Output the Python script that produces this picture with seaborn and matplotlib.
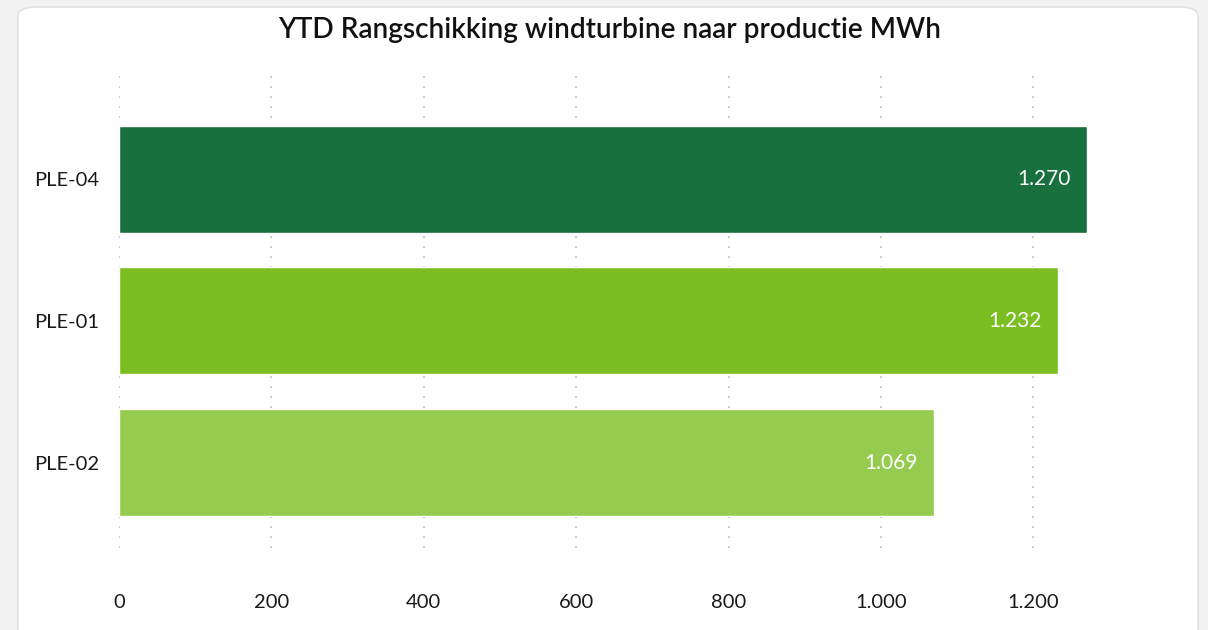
import seaborn as sns
import pandas as pd
import matplotlib.pyplot as plt
from matplotlib.patches import FancyBboxPatch
from matplotlib.ticker import FuncFormatter

# Data
turbines = ['PLE-04', 'PLE-01', 'PLE-02']
production = [1270, 1232, 1069]
bar_colors = ['#18703c', '#7abe22', '#95cb4f']
xticks = [0, 200, 400, 600, 800, 1000, 1200]


def dot_thousands(v, pos=None):
    return f'{int(round(v)):,}'.replace(',', '.')


df = pd.DataFrame({'Turbine': turbines, 'MWh': production})

sns.set_theme(style='white')
plt.rcParams['font.family'] = ['Lato', 'DejaVu Sans']

fig = plt.figure(figsize=(12.08, 6.3), dpi=100)
fig.patch.set_facecolor('#f2f2f2')

# White card behind the chart
card = FancyBboxPatch((18 / 1208, -0.05), 1180 / 1208, 1.05 - 7 / 630,
                      boxstyle='round,pad=0,rounding_size=0.015',
                      transform=fig.transFigure, facecolor='white',
                      edgecolor='#e2e2e2', linewidth=1.2, zorder=-10)
fig.patches.append(card)

ax = fig.add_axes([119 / 1208, 82 / 630, (1102 - 119) / 1208, (548 - 75) / 630])
ax.set_facecolor('none')

sns.barplot(data=df, y='Turbine', x='MWh', hue='Turbine', palette=bar_colors,
            order=turbines, hue_order=turbines, width=0.756, legend=False,
            saturation=1, ax=ax, zorder=2)

ax.set_xlim(0, 1290)
ax.set_ylim(2.604, -0.738)
ax.set_xticks(xticks)
ax.xaxis.set_major_formatter(FuncFormatter(dot_thousands))
ax.grid(axis='x', linestyle=(0, (1, 5)), color='#b5b5b5', linewidth=1.2, zorder=0)
ax.set_axisbelow(True)
for s in ax.spines.values():
    s.set_visible(False)
ax.tick_params(axis='both', length=0, labelsize=14.5, colors='#1a1a1a')
ax.tick_params(axis='y', pad=14)
ax.tick_params(axis='x', pad=33)
ax.set_xlabel('')
ax.set_ylabel('')

# Value labels inside the bar ends
for p, v in zip(ax.patches, production):
    ax.annotate(dot_thousands(v), (p.get_x() + p.get_width(), p.get_y() + p.get_height() / 2),
                xytext=(-11.5, 0), textcoords='offset points', ha='right', va='center',
                fontsize=15, color='white')

fig.text(610 / 1208, 1 - 30 / 630, 'YTD Rangschikking windturbine naar productie MWh',
         ha='center', va='center', fontsize=20.2, color='#111111', fontweight='semibold')

plt.savefig('out.png', dpi=100, facecolor=fig.get_facecolor())
